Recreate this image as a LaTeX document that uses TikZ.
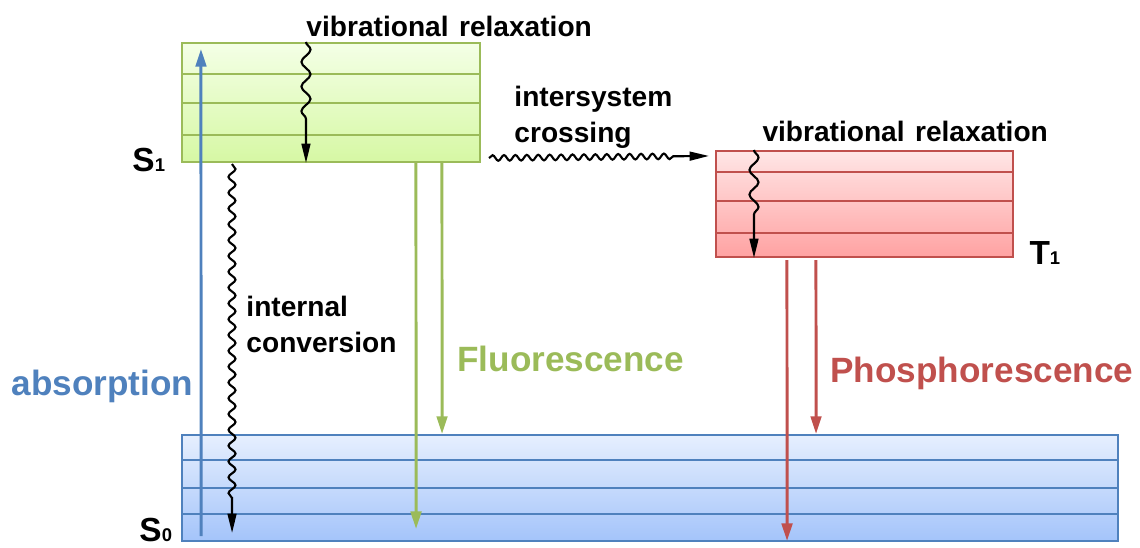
\documentclass[tikz,border=0pt]{standalone}
\usepackage{fontspec}
\setmainfont{Liberation Sans}
\usetikzlibrary{positioning, arrows.meta, decorations.pathmorphing, calc}

\definecolor{sblue}{HTML}{4F81BD}
\definecolor{sgreen}{HTML}{9BBB59}
\definecolor{tred}{HTML}{C0504D}
\definecolor{sonetop}{HTML}{F4FFE6}
\definecolor{sonebot}{HTML}{D6F8A4}
\definecolor{tonetop}{HTML}{FFE6E6}
\definecolor{tonebot}{HTML}{FFA2A2}
\definecolor{szerotop}{HTML}{E6EFFE}
\definecolor{szerobot}{HTML}{A4C4FA}
\newcommand{\lvlsub}[1]{{\fontsize{10.5}{12}\selectfont #1}}

\begin{document}
\begin{tikzpicture}[x=0.02cm,y=-0.02cm,>={Triangle[width=6pt,length=10pt]},line width=1.7pt]
  \tikzstyle{level}=[draw, line width=1.2pt, inner sep=0pt]
  \tikzstyle{lbl}=[inner sep=0pt, font=\fontsize{16}{20.4}\selectfont\bfseries]
  \tikzstyle{big}=[inner sep=0pt, font=\fontsize{20}{24}\selectfont\bfseries]
  \tikzstyle{state}=[inner sep=0pt, anchor=base west, font=\fontsize{19}{20}\selectfont\bfseries]
  \tikzstyle{wave}=[->, >={Triangle[width=5pt,length=11pt]}, black, line width=1.2pt, decorate]

  \useasboundingbox (0,0) rectangle (1140,548);

  \node[level, draw=sgreen, top color=sonetop, bottom color=sonebot, minimum width=5.96cm, minimum height=2.38cm] (S1) at (331,102.5) {};
  \node[level, draw=tred, top color=tonetop, bottom color=tonebot, minimum width=5.94cm, minimum height=2.12cm] (T1) at (864.5,204) {};
  \node[level, draw=sblue, top color=szerotop, bottom color=szerobot, minimum width=18.72cm, minimum height=2.12cm] (S0) at (650,488) {};

  \foreach \y in {74,103,135}
    \draw[sgreen, line width=1.1pt] (S1.west |- 0,\y) -- (S1.east |- 0,\y);
  \foreach \y in {172,201,233}
    \draw[tred, line width=0.9pt] (T1.west |- 0,\y) -- (T1.east |- 0,\y);
  \foreach \y in {460,488,514}
    \draw[sblue, line width=1.1pt] (S0.west |- 0,\y) -- (S0.east |- 0,\y);

  \draw[->, sblue] ($(S0.south west)+(20,-6)$) -- ($(S1.north west)+(20,7)$);
  \draw[->, sgreen] ($(S1.south west)+(235,0)$) -- ($(S0.south west)+(235,-13)$);
  \draw[->, sgreen] ($(S1.south west)+(261,0)$) -- ($(S0.north west)+(261,0)$);
  \draw[->, tred] ($(T1.south west)+(72,2)$) -- ($(S0.south west)+(606,-1)$);
  \draw[->, tred] ($(T1.south west)+(101,2)$) -- ($(S0.north west)+(635,0)$);

  \draw[wave, decoration={snake, amplitude=2.6pt, segment length=14pt, post length=25pt}]
    ($(S1.north west)+(125,0)$) -- ($(S1.south west)+(125,0)$);
  \draw[wave, decoration={snake, amplitude=2.6pt, segment length=14pt, post length=21pt}]
    ($(T1.north west)+(39,0)$) -- ($(T1.south west)+(39,0)$);
  \draw[wave, decoration={snake, amplitude=2pt, segment length=9pt, post length=17pt}]
    ($(S1.south west)+(51,1)$) -- ($(S0.south west)+(51,-9)$);
  \draw[wave, decoration={snake, amplitude=1.6pt, segment length=6.5pt, post length=19pt}]
    ($(S1.south east)+(8,-5)$) -- ($(T1.north west)+(-6,6)$);

  \node[lbl, anchor=base west] (vrS1) at (305,36) {vibrational\hspace{1.5pt} relaxation};
  \node[lbl, anchor=base west] (vrT1) at (761,141) {vibrational\hspace{1.5pt} relaxation};
  \node[lbl, anchor=north west, align=left] (isc) at (513,85) {intersystem\\crossing};
  \node[lbl, anchor=north west, align=left] (ic) at (245,295) {internal\\conversion};

  \node[big, sblue, anchor=base west] (abs) at (10,395) {absorption};
  \node[big, sgreen, anchor=base west] (fluo) at (456,371) {Fluorescence};
  \node[big, tred, anchor=base west] (phos) at (829,382) {Phosphorescence};

  \node[state] (lS1) at (131,171) {S\lvlsub{1}};
  \node[state] (lT1) at (1028,264) {T\lvlsub{1}};
  \node[state] (lS0) at (138,541) {S\lvlsub{0}};
\end{tikzpicture}
\end{document}
